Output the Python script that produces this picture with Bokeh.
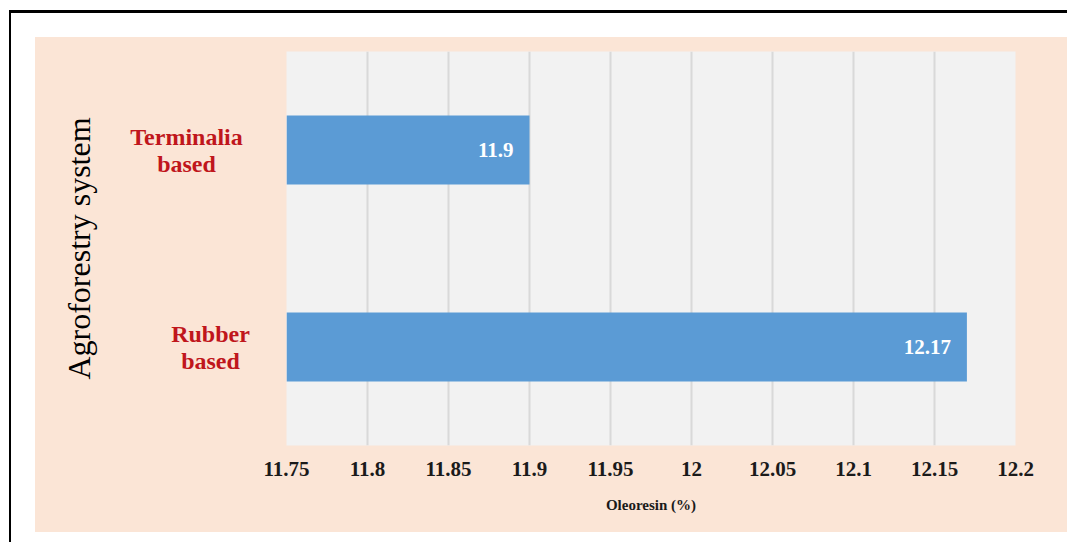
from math import pi

from bokeh.core.properties import value
from bokeh.embed import file_html
from bokeh.layouts import column, row
from bokeh.models import ColumnDataSource, FactorRange, FixedTicker, LabelSet, Range1d
from bokeh.plotting import figure
from bokeh.resources import INLINE

# Oleoresin content (%) by agroforestry system
systems = ["Rubber based", "Terminalia based"]
oleoresin = [12.17, 11.9]

# x-axis ticks and their printed labels
tick_values = [11.75, 11.8, 11.85, 11.9, 11.95, 12.0, 12.05, 12.1, 12.15, 12.2]
tick_labels = ["11.75", "11.8", "11.85", "11.9", "11.95", "12", "12.05", "12.1", "12.15", "12.2"]

y_title = "Agroforestry system"
x_title = "Oleoresin (%)"

SERIF = "Liberation Serif"
PEACH = "#fbe5d6"
BAR = "#5b9bd5"
RED = "#c0161c"
TOP, BOTTOM = 14, 87          # space above / below the plotting frame
PANEL_W, HEIGHT = 221, 495    # label panel width, overall height
TOTAL_W = 1032

y_range = FactorRange(*systems)

source = ColumnDataSource(dict(
    system=systems,
    oleoresin=oleoresin,
    text=[f"{v:g}" for v in oleoresin],
))

# ---- left panel: two-line red category names and the vertical title ----
first, second = zip(*(s.split(" ", 1) for s in systems))
names = ColumnDataSource(dict(
    system=systems,
    line1=list(first),
    line2=list(second),
    cx=[175, 151],            # horizontal centre of each name block
))

left = figure(
    width=PANEL_W, height=HEIGHT,
    x_range=Range1d(0, PANEL_W), y_range=y_range,
    output_backend="svg", toolbar_location=None,
    min_border_left=0, min_border_right=0,
    min_border_top=TOP, min_border_bottom=BOTTOM,
    background_fill_color=PEACH, border_fill_color=PEACH,
)
left.outline_line_color = None
left.axis.visible = False
left.grid.visible = False

name_style = dict(
    source=names, text_align="center", text_baseline="middle",
    text_color=RED, text_font=value(SERIF), text_font_style="bold",
    text_font_size="24px",
)
left.text(x="cx", y="system", text="line1", y_offset=-13, **name_style)
left.text(x="cx", y="system", text="line2", y_offset=14, **name_style)

left.text(
    x=[43], y=[len(systems) / 2], text=[y_title], angle=pi / 2,
    text_align="center", text_baseline="middle", text_color="black",
    text_font=value(SERIF), text_font_size="32px",
)

# ---- main plot ----
p = figure(
    width=TOTAL_W - PANEL_W, height=HEIGHT,
    x_range=Range1d(tick_values[0], tick_values[-1]),
    y_range=y_range,
    output_backend="svg", toolbar_location=None,
    min_border_left=30, min_border_right=52,
    min_border_top=TOP, min_border_bottom=BOTTOM,
    background_fill_color="#f2f2f2",
    border_fill_color=PEACH,
)
p.outline_line_color = None
p.yaxis.visible = False

p.hbar(y="system", left=tick_values[0], right="oleoresin", height=0.35,
       source=source, fill_color=BAR, line_color=None)

# values written inside the bar ends
p.add_layout(LabelSet(
    x="oleoresin", y="system", text="text", source=source,
    x_offset=-16, text_align="right", text_baseline="middle",
    text_color="white", text_font=value(SERIF), text_font_style="bold",
    text_font_size="21px",
))

p.ygrid.grid_line_color = None
p.xgrid.grid_line_color = "#d9d9d9"
p.xgrid.grid_line_width = 2
p.xgrid.ticker = FixedTicker(ticks=tick_values)

xa = p.xaxis[0]
xa.ticker = FixedTicker(ticks=tick_values)
xa.major_label_overrides = dict(zip(tick_values, tick_labels))
xa.axis_line_color = None
xa.major_tick_line_color = None
xa.minor_tick_line_color = None
xa.major_tick_out = 0
xa.major_label_standoff = 16
xa.major_label_text_font = SERIF
xa.major_label_text_font_style = "bold"
xa.major_label_text_font_size = "21px"
xa.major_label_text_color = "#1a1a1a"
xa.axis_label = x_title
xa.axis_label_standoff = 18
xa.axis_label_text_font = SERIF
xa.axis_label_text_font_style = "bold"
xa.axis_label_text_font_size = "15px"
xa.axis_label_text_color = "#1a1a1a"

panel = row(left, p, styles={"background-color": PEACH})
page = column(panel, styles={
    "margin-left": "9px", "margin-top": "10px",
    "border-left": "2px solid black", "border-top": "3px solid black",
    "padding-left": "24px", "padding-top": "24px", "padding-bottom": "20px",
    "background-color": "white",
})

open("out.html", "w").write(file_html(page, INLINE))
